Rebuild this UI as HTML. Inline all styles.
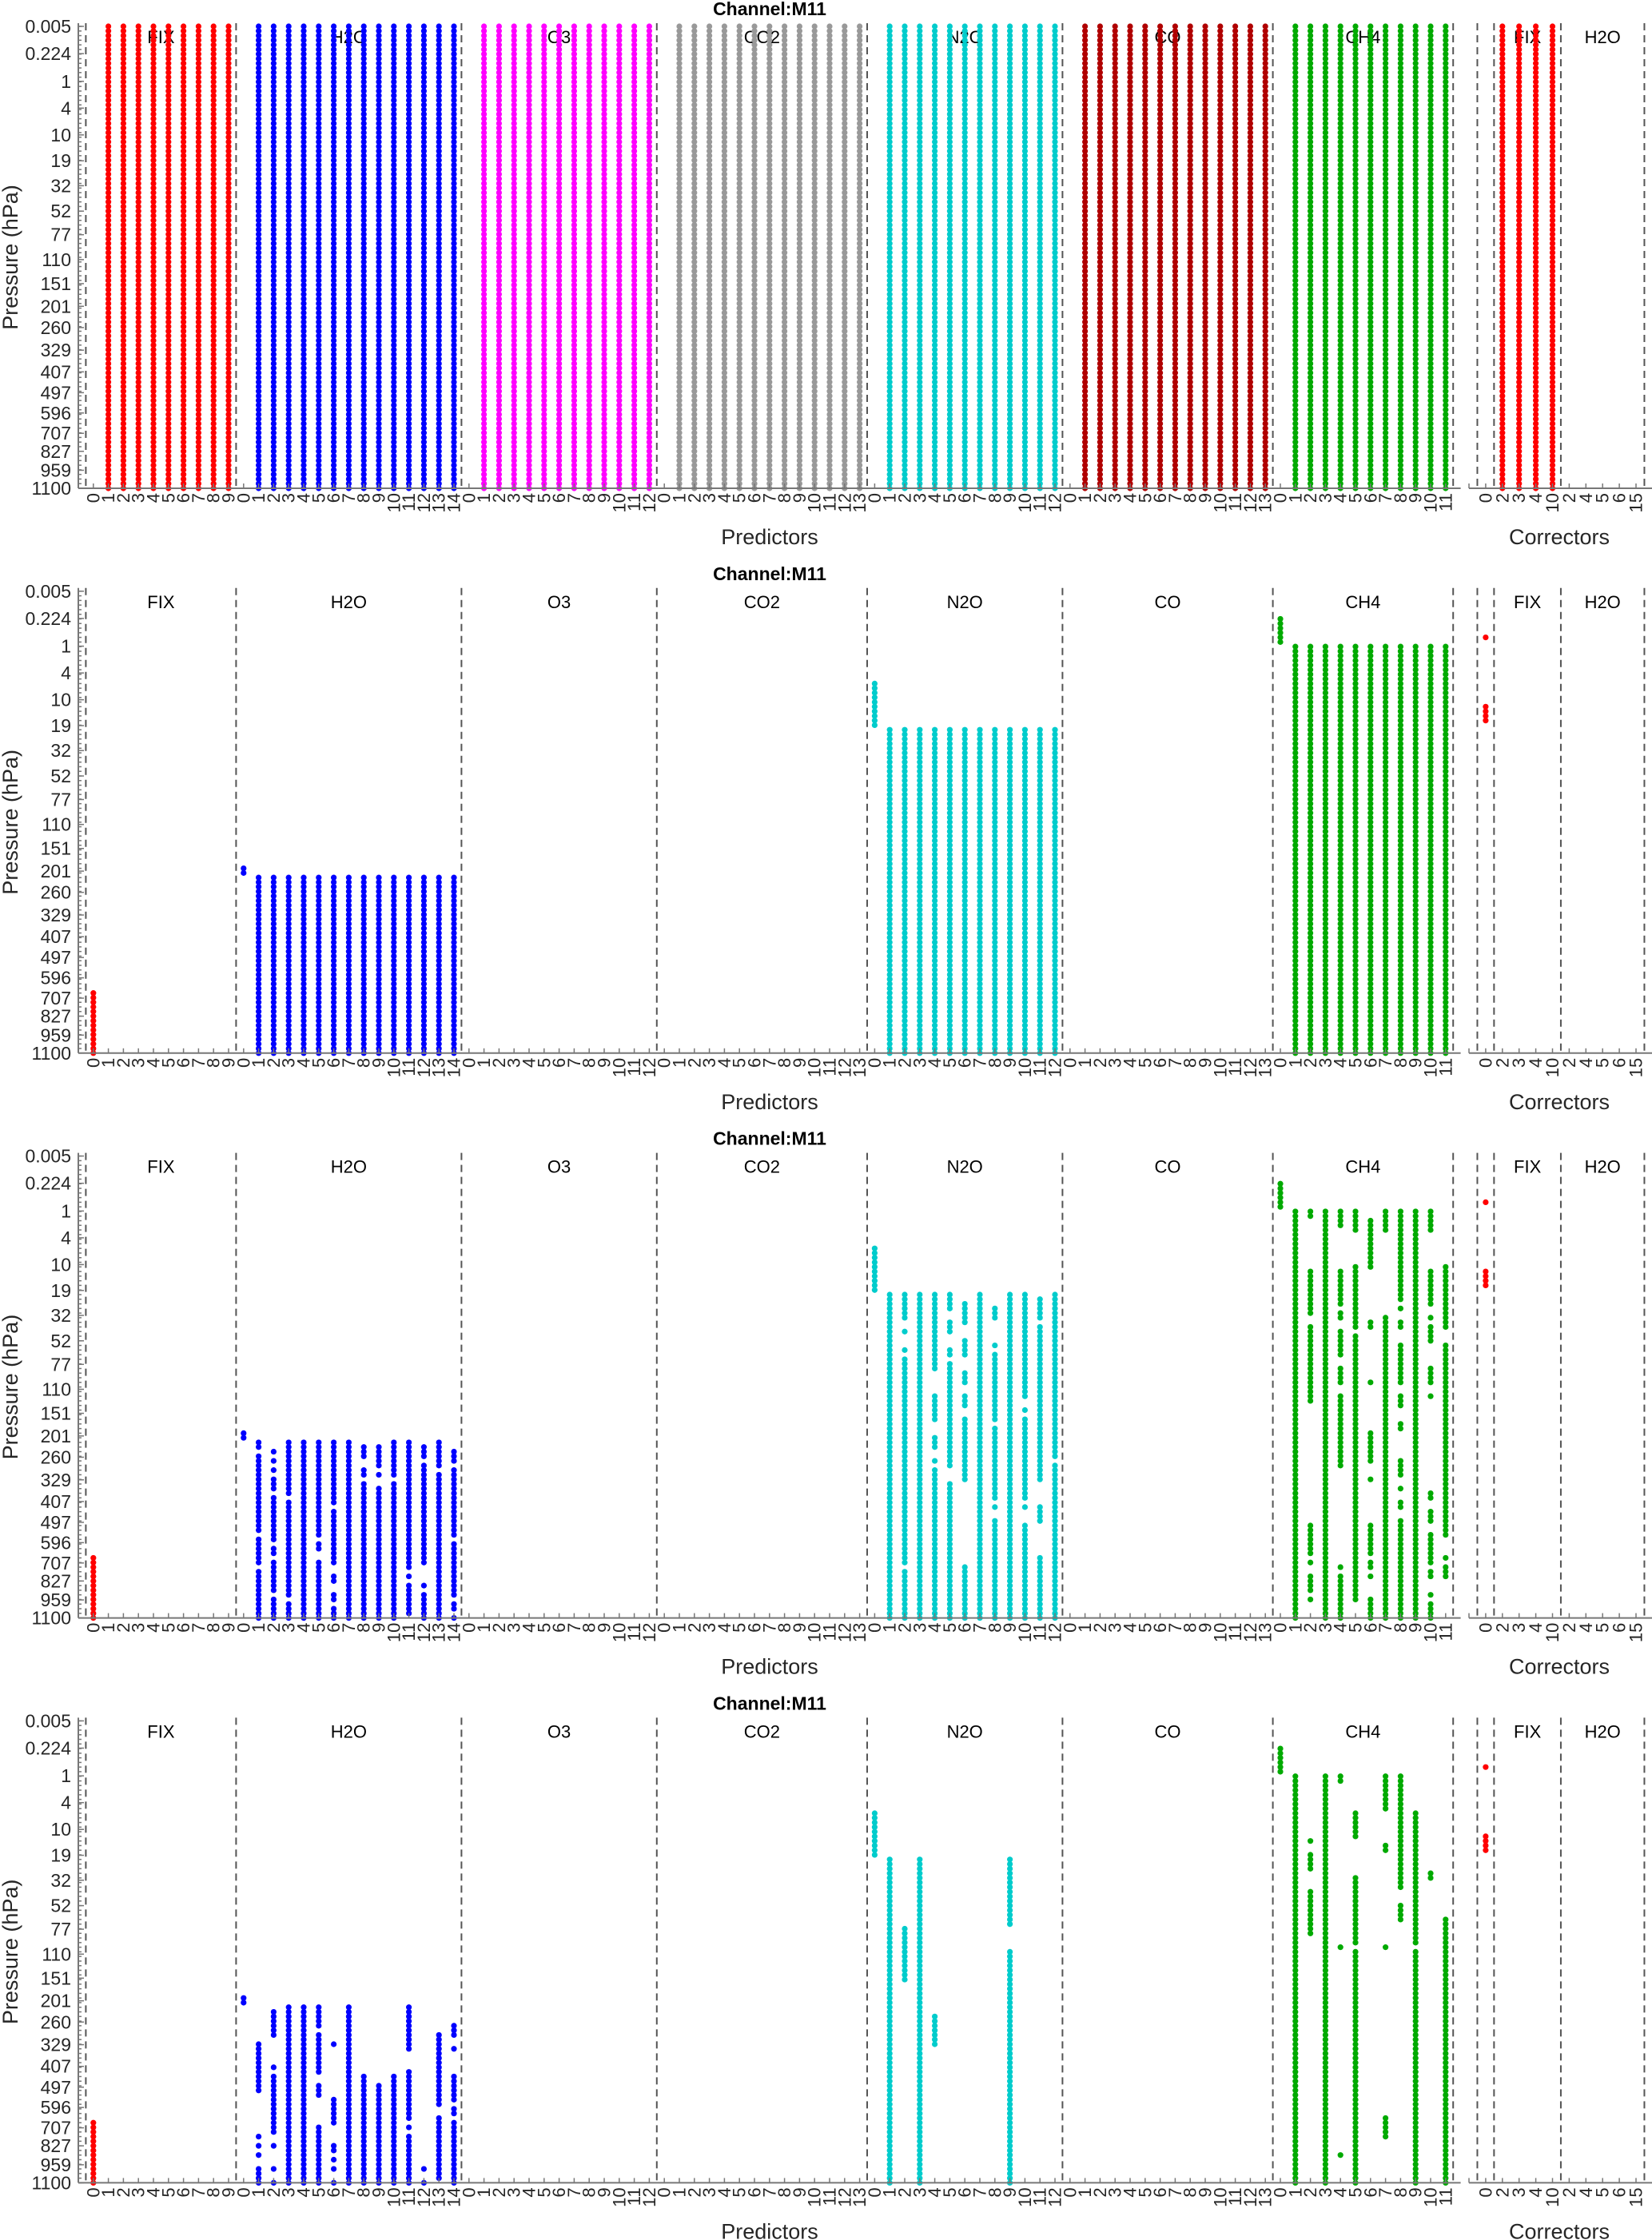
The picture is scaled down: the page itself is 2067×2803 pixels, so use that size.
<!DOCTYPE html>
<html><head><meta charset="utf-8">
<style>
html,body{margin:0;padding:0;background:#fff;}
svg{display:block;font-family:"Liberation Sans",sans-serif;}
</style></head>
<body>
<svg id="chart" xmlns="http://www.w3.org/2000/svg" width="2067" height="2803" viewBox="0 0 2067 2803"></svg>
<script>
// ---------- data ----------
const groupNames = ["FIX","H2O","O3","CO2","N2O","CO","CH4"];
const groupSizes = [10,15,13,14,13,14,12];
const groupColors = ["#ff0000","#0000ff","#ff00ff","#999999","#00cccc","#b00000","#00aa00"];
const yTickLabels = ["0.005","0.224","1","4","10","19","32","52","77","110","151","201","260","329","407","497","596","707","827","959","1100"];
const yTickLevels = [1,6.9,12.9,18.7,24.5,30.1,35.5,41,46.1,51.5,56.7,61.6,66.2,71.1,75.8,80.3,84.7,89.1,93,97.1,101];
const corrLabels = ["0","2","3","4","10","2","4","5","6","15"];
const corrGroups = ["FIX","H2O"];
const panelTitle = "Channel:M11";

// each entry: [group, [columns], [[levelFrom, levelTo], ...]]
const panel1 = [
 ["FIX",[1,2,3,4,5,6,7,8,9],[[1,101]]],
 ["H2O",[1,2,3,4,5,6,7,8,9,10,11,12,13,14],[[1,101]]],
 ["O3",[1,2,3,4,5,6,7,8,9,10,11,12],[[1,101]]],
 ["CO2",[1,2,3,4,5,6,7,8,9,10,11,12,13],[[1,101]]],
 ["N2O",[1,2,3,4,5,6,7,8,9,10,11,12],[[1,101]]],
 ["CO",[1,2,3,4,5,6,7,8,9,10,11,12,13],[[1,101]]],
 ["CH4",[1,2,3,4,5,6,7,8,9,10,11],[[1,101]]]
];
const panel2 = [
 ["FIX",[0],[[88,101]]],
 ["H2O",[0],[[61,62]]],
 ["H2O",[1,2,3,4,5,6,7,8,9,10,11,12,13,14],[[63,101]]],
 ["N2O",[0],[[21,30]]],
 ["N2O",[1,2,3,4,5,6,7,8,9,10,11,12],[[31,101]]],
 ["CH4",[0],[[7,12]]],
 ["CH4",[1,2,3,4,5,6,7,8,9,10,11],[[13,101]]]
];
const panel3 = [
 ["FIX",[0],[[88,101]]],
 ["H2O",[0],[[61,62]]],
 ["H2O",[1],[[63,64],[66,75],[76,79],[80,82],[84,89],[91,92],[93,101]]],
 ["H2O",[2],[[65,65],[67,67],[69,69],[71,73],[75,84],[86,87],[89,95],[97,101]]],
 ["H2O",[3],[[63,74],[76,96],[98,101]]],
 ["H2O",[4],[[63,101]]],
 ["H2O",[5],[[63,83],[85,86],[89,99],[100,101]]],
 ["H2O",[6],[[63,65],[66,76],[78,88],[89,89],[92,92],[93,93],[96,97],[99,101]]],
 ["H2O",[7],[[63,101]]],
 ["H2O",[8],[[64,66],[69,70],[72,73],[74,101]]],
 ["H2O",[9],[[64,68],[70,70],[73,101]]],
 ["H2O",[10],[[63,70],[72,72],[73,101]]],
 ["H2O",[11],[[63,90],[92,92],[94,100]]],
 ["H2O",[12],[[64,66],[68,89],[94,94],[96,101]]],
 ["H2O",[13],[[63,68],[70,101]]],
 ["H2O",[14],[[65,67],[69,69],[70,78],[79,82],[83,83],[85,96],[98,99],[101,101]]],
 ["N2O",[0],[[21,30]]],
 ["N2O",[1],[[31,101]]],
 ["N2O",[2],[[31,36],[39,39],[43,43],[45,89],[91,101]]],
 ["N2O",[3],[[31,101]]],
 ["N2O",[4],[[31,47],[53,55],[56,58],[62,64],[67,67],[69,101]]],
 ["N2O",[5],[[31,34],[37,39],[43,44],[46,68],[72,101]]],
 ["N2O",[6],[[33,37],[41,43],[44,44],[48,50],[53,55],[58,71],[90,101]]],
 ["N2O",[7],[[31,101]]],
 ["N2O",[8],[[34,36],[42,42],[44,58],[60,75],[77,77],[80,101]]],
 ["N2O",[9],[[31,101]]],
 ["N2O",[10],[[31,53],[56,56],[58,75],[77,77],[81,101]]],
 ["N2O",[11],[[32,36],[38,71],[77,80],[88,101]]],
 ["N2O",[12],[[31,66],[68,101]]],
 ["CH4",[0],[[7,12]]],
 ["CH4",[1],[[13,101]]],
 ["CH4",[2],[[13,14],[26,35],[38,54],[81,87],[89,89],[92,95],[97,97]]],
 ["CH4",[3],[[13,101]]],
 ["CH4",[4],[[13,16],[26,33],[35,36],[39,41],[42,44],[47,50],[53,68],[90,90],[92,101]]],
 ["CH4",[5],[[13,17],[25,38],[40,97]]],
 ["CH4",[6],[[15,25],[37,38],[50,50],[61,67],[71,71],[81,87],[89,90],[92,92],[97,101]]],
 ["CH4",[7],[[13,17],[36,101]]],
 ["CH4",[8],[[13,32],[34,34],[37,38],[42,50],[53,55],[59,60],[67,70],[73,73],[76,77],[80,92],[93,101]]],
 ["CH4",[9],[[13,101]]],
 ["CH4",[10],[[13,17],[26,33],[36,36],[38,41],[47,50],[53,53],[74,75],[78,80],[83,89],[91,92],[96,96],[98,101]]],
 ["CH4",[11],[[25,38],[42,53],[54,83],[88,88],[90,92]]]
];
const panel4 = [
 ["FIX",[0],[[88,101]]],
 ["H2O",[0],[[61,62]]],
 ["H2O",[1],[[71,81],[91,91],[93,93],[95,95],[98,101]]],
 ["H2O",[2],[[64,69],[76,76],[78,90],[93,93],[98,98],[101,101]]],
 ["H2O",[3],[[63,79],[80,101]]],
 ["H2O",[4],[[63,101]]],
 ["H2O",[5],[[63,67],[69,77],[80,82],[89,98],[99,101]]],
 ["H2O",[6],[[71,71],[83,88],[93,93],[94,94],[96,96],[98,98],[101,101]]],
 ["H2O",[7],[[63,101]]],
 ["H2O",[8],[[78,98],[99,101]]],
 ["H2O",[9],[[80,80],[81,91],[92,101]]],
 ["H2O",[10],[[78,91],[92,101]]],
 ["H2O",[11],[[63,72],[77,87],[89,89],[91,101]]],
 ["H2O",[12],[[98,98],[101,101]]],
 ["H2O",[13],[[69,71],[72,84],[87,100]]],
 ["H2O",[14],[[67,69],[72,72],[78,83],[85,86],[88,101]]],
 ["N2O",[0],[[21,30]]],
 ["N2O",[1],[[31,101]]],
 ["N2O",[2],[[46,57]]],
 ["N2O",[3],[[31,101]]],
 ["N2O",[4],[[65,71]]],
 ["N2O",[9],[[31,45],[51,101]]],
 ["CH4",[0],[[7,12]]],
 ["CH4",[1],[[13,101]]],
 ["CH4",[2],[[27,27],[30,33],[38,47]]],
 ["CH4",[3],[[13,101]]],
 ["CH4",[4],[[13,14],[50,50],[95,95]]],
 ["CH4",[5],[[21,26],[35,49],[51,101]]],
 ["CH4",[7],[[13,20],[28,29],[50,50],[87,91]]],
 ["CH4",[8],[[13,37],[41,44]]],
 ["CH4",[9],[[21,49],[51,95],[96,101]]],
 ["CH4",[10],[[34,35]]],
 ["CH4",[11],[[44,101]]]
];
// corrector entries: [correctorPosition, [[levelFrom, levelTo], ...]]
const corr1 = [[2,[[1,101]]],[3,[[1,101]]],[4,[[1,101]]],[5,[[1,101]]]];
const corr2 = [[1,[[11,11],[26,29]]]];
const corr3 = [[1,[[11,11],[26,29]]]];
const corr4 = [[1,[[11,11],[26,29]]]];
const panels = [panel1,panel2,panel3,panel4];
const corrs = [corr1,corr2,corr3,corr4];

// ---------- layout ----------
const NS = "http://www.w3.org/2000/svg";
const svg = document.getElementById("chart");
const PANEL_H = 706.8;
const X0 = 98, XSTEP = 18.8, XMAXPOS = 92;
const CX0 = 1838, CSTEP = 20.9;
const LEVEL1_Y = 33, LEVEL_STEP = 5.78;
const AXIS_TOP = 29, AXIS_BOTTOM = 611;
const groupStart = [];
{ let s = 1; for (let i = 0; i < groupSizes.length; i++) { groupStart.push(s); s += groupSizes[i]; } }
function xPos(p) { return X0 + p * XSTEP; }
function cxPos(p) { return CX0 + p * CSTEP; }
function yLev(L, off) { return off + LEVEL1_Y + (L - 1) * LEVEL_STEP; }
function mk(tag, attrs, parent) {
  const e = document.createElementNS(NS, tag);
  for (const k in attrs) e.setAttribute(k, attrs[k]);
  (parent || svg).appendChild(e);
  return e;
}

for (let k = 0; k < 4; k++) {
  const off = k * PANEL_H;
  const g = mk("g", {});
  
  

  const t = mk("text", {x: 963, y: off + 19, "text-anchor": "middle", "font-size": 23, "font-weight": "bold", fill: "#000"}, g);
  t.textContent = panelTitle;
  
  

  let sepPos = [0.5];
  for (let i = 0; i < groupSizes.length; i++) sepPos.push(groupStart[i] + groupSizes[i] - 0.5);
  sepPos.forEach(function (p) {
    const l = mk("line", {x1: xPos(p), x2: xPos(p), y1: off + AXIS_TOP, y2: off + AXIS_BOTTOM, stroke: "#555", "stroke-width": 2, "stroke-dasharray": "9 6"}, g);
    
    
  });
  for (let i = 0; i < groupNames.length; i++) {
    const cx = xPos(groupStart[i] - 0.5 + groupSizes[i] / 2);
    const tl = mk("text", {x: cx, y: off + 54, "text-anchor": "middle", "font-size": 22, fill: "#000"}, g);
    tl.textContent = groupNames[i];
    
    
  }
  [0.5, 1.5, 5.5, 10.5].forEach(function (p) {
    const l = mk("line", {x1: cxPos(p), x2: cxPos(p), y1: off + AXIS_TOP, y2: off + AXIS_BOTTOM, stroke: "#555", "stroke-width": 2, "stroke-dasharray": "9 6"}, g);
    
    
  });
  const corrCenters = [3.5, 8];
  corrGroups.forEach(function (name, i) {
    const tl = mk("text", {x: cxPos(corrCenters[i]), y: off + 54, "text-anchor": "middle", "font-size": 22, fill: "#000"}, g);
    tl.textContent = name;
    
    
  });

  panels[k].forEach(function (entry) {
    const gi = groupNames.indexOf(entry[0]);
    entry[1].forEach(function (col) {
      const x = xPos(groupStart[gi] + col);
      entry[2].forEach(function (seg) {
        for (let L = seg[0]; L <= seg[1]; L++) {
          const c = mk("circle", {cx: x, cy: yLev(L, off), r: 3.6, fill: groupColors[gi]}, g);
          
          
        }
      });
    });
  });
  corrs[k].forEach(function (entry) {
    const x = cxPos(entry[0]);
    entry[1].forEach(function (seg) {
      for (let L = seg[0]; L <= seg[1]; L++) {
        const c = mk("circle", {cx: x, cy: yLev(L, off), r: 3.6, fill: "#ff0000"}, g);
        
        
      }
    });
  });

  const ya = mk("line", {x1: X0, x2: X0, y1: off + AXIS_TOP, y2: off + AXIS_BOTTOM, stroke: "#777", "stroke-width": 2}, g);
  
  
  for (let L = 1; L <= 101; L++) {
    const tk = mk("line", {x1: X0, x2: X0 + 4, y1: yLev(L, off), y2: yLev(L, off), stroke: "#777", "stroke-width": 1.5}, g);
    
    
  }
  yTickLabels.forEach(function (lab, i) {
    const yy = yLev(yTickLevels[i], off);
    const tk = mk("line", {x1: X0, x2: X0 + 7, y1: yy, y2: yy, stroke: "#777", "stroke-width": 1.5}, g);
    
    
    const tl = mk("text", {x: 89, y: yy, "text-anchor": "end", "dominant-baseline": "central", "font-size": 23, fill: "#262626"}, g);
    tl.textContent = lab;
    
    
  });
  const yt = mk("text", {x: 22, y: off + 322, "text-anchor": "middle", "font-size": 27, fill: "#262626", transform: "rotate(-90 22 " + (off + 322) + ")"}, g);
  yt.textContent = "Pressure (hPa)";
  
  

  const xa = mk("line", {x1: X0, x2: xPos(XMAXPOS), y1: off + AXIS_BOTTOM, y2: off + AXIS_BOTTOM, stroke: "#777", "stroke-width": 2}, g);
  
  
  for (let i = 0; i < groupSizes.length; i++) {
    for (let j = 0; j < groupSizes[i]; j++) {
      const x = xPos(groupStart[i] + j);
      const tk = mk("line", {x1: x, x2: x, y1: off + AXIS_BOTTOM, y2: off + AXIS_BOTTOM - 6, stroke: "#777", "stroke-width": 1.5}, g);
      
      
      const yy = off + 617;
      const tl = mk("text", {x: x, y: yy, "text-anchor": "end", "dominant-baseline": "central", "font-size": 22, fill: "#262626", transform: "rotate(-90 " + x + " " + yy + ")"}, g);
      tl.textContent = String(j);
      
      
    }
  }
  const xt = mk("text", {x: 963, y: off + 681, "text-anchor": "middle", "font-size": 27, fill: "#262626"}, g);
  xt.textContent = "Predictors";
  
  

  const ca = mk("line", {x1: CX0, x2: 2067, y1: off + AXIS_BOTTOM, y2: off + AXIS_BOTTOM, stroke: "#777", "stroke-width": 2}, g);
  
  
  for (let p = 0; p <= 10; p++) {
    const tk = mk("line", {x1: cxPos(p), x2: cxPos(p), y1: off + AXIS_BOTTOM, y2: off + AXIS_BOTTOM - 6, stroke: "#777", "stroke-width": 1.5}, g);
    
    
  }
  corrLabels.forEach(function (lab, i) {
    const x = cxPos(i + 1), yy = off + 617;
    const tl = mk("text", {x: x, y: yy, "text-anchor": "end", "dominant-baseline": "central", "font-size": 22, fill: "#262626", transform: "rotate(-90 " + x + " " + yy + ")"}, g);
    tl.textContent = lab;
    
    
  });
  const ct = mk("text", {x: 1951, y: off + 681, "text-anchor": "middle", "font-size": 27, fill: "#262626"}, g);
  ct.textContent = "Correctors";
  
  
}
</script>
</body></html>
